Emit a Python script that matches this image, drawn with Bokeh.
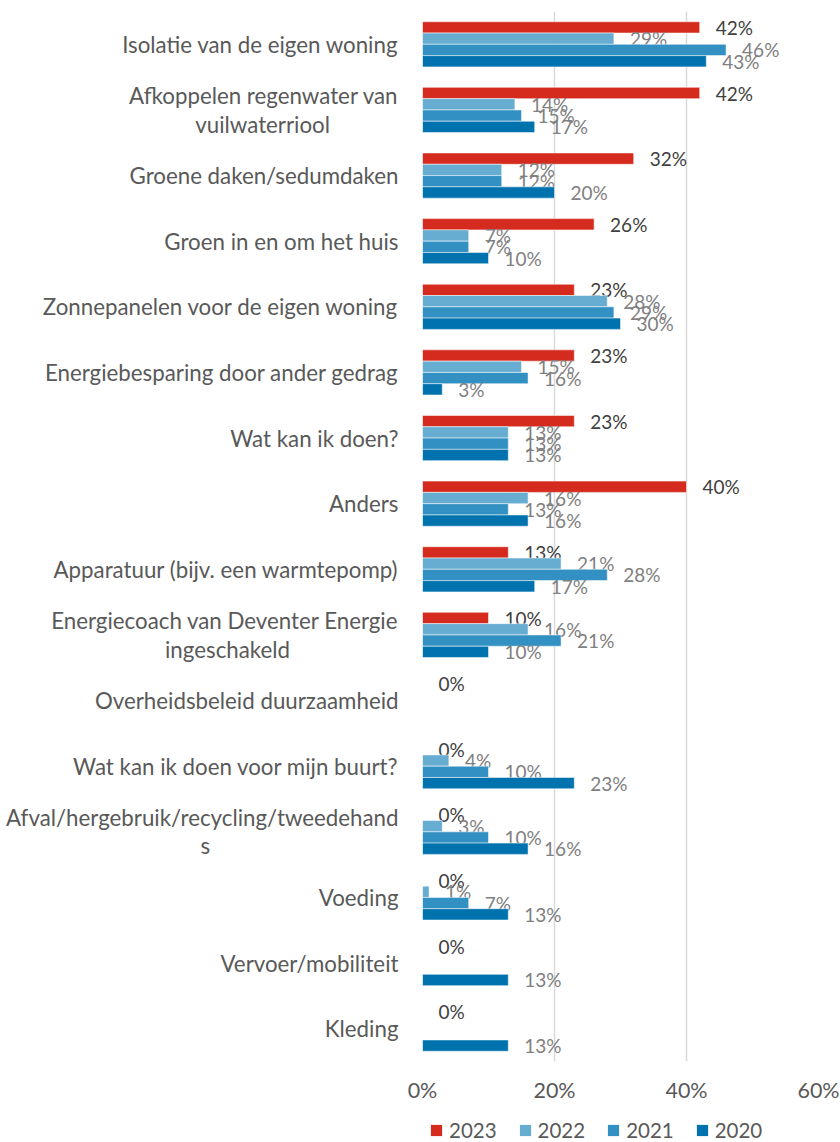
import json
from bokeh.plotting import figure
from bokeh.layouts import column
from bokeh.models import (ColumnDataSource, FactorRange, Range1d, FixedTicker,
                          Legend, LegendItem, CustomJSTickFormatter)
from bokeh.transform import dodge
from bokeh.embed import file_html
from bokeh.resources import INLINE
from bokeh.core.properties import value

categories = [
    "Isolatie van de eigen woning",
    "Afkoppelen regenwater van\nvuilwaterriool",
    "Groene daken/sedumdaken",
    "Groen in en om het huis",
    "Zonnepanelen voor de eigen woning",
    "Energiebesparing door ander gedrag",
    "Wat kan ik doen?",
    "Anders",
    "Apparatuur (bijv. een warmtepomp)",
    "Energiecoach van Deventer Energie\ningeschakeld",
    "Overheidsbeleid duurzaamheid",
    "Wat kan ik doen voor mijn buurt?",
    "Afval/hergebruik/recycling/tweedehand\ns",
    "Voeding",
    "Vervoer/mobiliteit",
    "Kleding",
]
years = ["2023", "2022", "2021", "2020"]
v2023 = [42, 42, 32, 26, 23, 23, 23, 40, 13, 10, 0, 0, 0, 0, 0, 0]
v2022 = [29, 14, 12, 7, 28, 15, 13, 16, 21, 16, None, 4, 3, 1, None, None]
v2021 = [46, 15, 12, 7, 29, 16, 13, 13, 28, 21, None, 10, 10, 7, None, None]
v2020 = [43, 17, 20, 10, 30, 3, 13, 16, 17, 10, None, 23, 16, 13, 13, 13]
series = [v2023, v2022, v2021, v2020]
x_ticks = [0, 20, 40, 60]

colors = ["#D52B1E", "#67ADD1", "#3291C2", "#0073AE"]
label_colors = ["#404040", "#808080", "#808080", "#808080"]
offsets = [0.258, 0.086, -0.086, -0.258]
FONT = "Lato"

# second lines of wrapped labels are centred under the first line (padding in px)
pad_px = {
    "Afkoppelen regenwater van\nvuilwaterriool": 67,
    "Energiecoach van Deventer Energie\ningeschakeld": 110,
    "Afval/hergebruik/recycling/tweedehand\ns": 190,
}
NB_W = 5.75
display = {c: (c + "\u00a0" * round(pad_px[c] / NB_W)) if c in pad_px else c
           for c in categories}

p = figure(width=840, height=1110, output_backend="svg", toolbar_location=None,
           y_range=FactorRange(factors=categories[::-1]),
           x_range=Range1d(0, 60),
           min_border_left=422, min_border_right=22,
           min_border_top=11, min_border_bottom=49)
p.outline_line_color = None

p.ygrid.grid_line_color = None
p.xgrid.ticker = FixedTicker(ticks=x_ticks)
p.xgrid.grid_line_color = "#D9D9D9"
p.xgrid.grid_line_width = 1.5

p.xaxis.ticker = FixedTicker(ticks=x_ticks)
p.xaxis.formatter = CustomJSTickFormatter(code="return tick.toFixed(0) + '%'")
p.xaxis.axis_line_color = None
p.xaxis.major_tick_line_color = None
p.xaxis.minor_tick_line_color = None
p.xaxis.major_tick_out = 0
p.xaxis.major_tick_in = 0
p.xaxis.major_label_standoff = 15
p.xaxis.major_label_text_font = FONT
p.xaxis.major_label_text_font_size = "21.5px"
p.xaxis.major_label_text_color = "#595959"

p.yaxis.formatter = CustomJSTickFormatter(
    code="const m = " + json.dumps(display) + "; return (tick in m) ? m[tick] : tick;")
p.yaxis.axis_line_color = None
p.yaxis.major_tick_line_color = None
p.yaxis.minor_tick_line_color = None
p.yaxis.major_tick_out = 0
p.yaxis.major_tick_in = 0
p.yaxis.major_label_standoff = 24
p.yaxis.major_label_text_font = FONT
p.yaxis.major_label_text_font_size = "22.3px"
p.yaxis.major_label_text_color = "#595959"
p.yaxis.major_label_text_line_height = 1.05

for yr, vals, col, lcol, off in zip(years, series, colors, label_colors, offsets):
    cats = [c for c, v in zip(categories, vals) if v is not None]
    vv = [v for v in vals if v is not None]
    src = ColumnDataSource(dict(cat=cats, val=vv, label=[f"{v}%" for v in vv]))
    p.hbar(y=dodge("cat", off, range=p.y_range), left=0, right="val",
           height=0.172, fill_color=col, line_color="white", line_alpha=0.5,
           line_width=1, source=src)
    p.text(x="val", y=dodge("cat", off, range=p.y_range), text="label", source=src,
           x_offset=16, text_align="left", text_baseline="middle",
           text_font=value(FONT), text_font_size="19px", text_color=lcol)

# legend strip below the chart (its frame is aligned with the chart's frame)
lg = figure(width=840, height=32, output_backend="svg", toolbar_location=None,
            x_range=Range1d(0, 1), y_range=Range1d(0, 1),
            x_axis_location=None, y_axis_location=None,
            min_border_left=0, min_border_right=0, min_border_top=0, min_border_bottom=0)
lg.title.visible = False
lg.outline_line_color = None
lg.xgrid.visible = False
lg.ygrid.visible = False
items = []
for yr, col in zip(years, colors):
    # zero-size swatch carrier: only its legend square is visible
    swatch = ColumnDataSource(dict(y=[0], left=[0], right=[0]))
    r = lg.hbar(y="y", left="left", right="right", height=0, source=swatch,
                fill_color=col, line_color=None)
    items.append(LegendItem(label=yr, renderers=[r]))
legend = Legend(items=items, orientation="horizontal", location=(7, 0),
                glyph_width=14, glyph_height=14, label_standoff=6, spacing=21,
                padding=0, margin=0, border_line_alpha=0, background_fill_alpha=0,
                label_text_font=FONT, label_text_font_size="20.5px",
                label_text_color="#595959")
lg.add_layout(legend, "center")

layout = column(p, lg, spacing=0)
open("out.html", "w").write(file_html(layout, INLINE))
